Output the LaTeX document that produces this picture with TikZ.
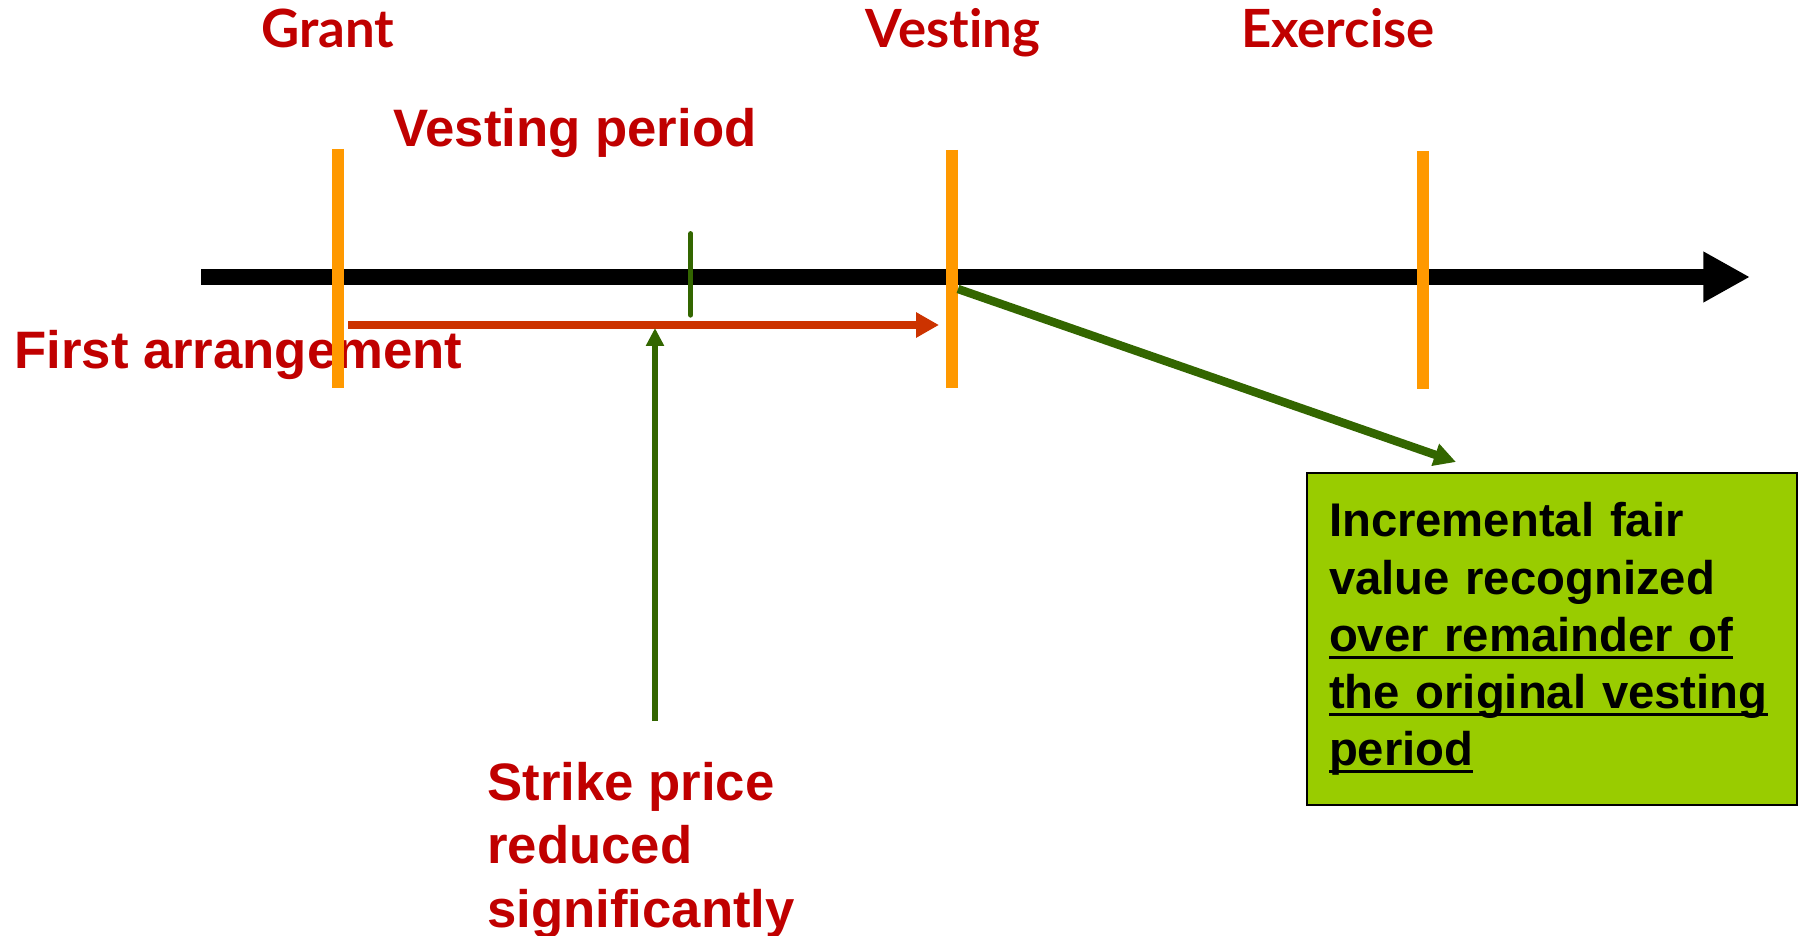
\documentclass[tikz,border=0pt]{standalone}
\usepackage{fontspec}
\setmainfont{Liberation Sans}
\newfontfamily\gillfont[Ligatures=NoCommon]{Lato}
\usetikzlibrary{arrows.meta}
\definecolor{darkred}{RGB}{192,0,0}
\definecolor{markorange}{RGB}{255,153,0}
\definecolor{rustred}{RGB}{204,51,0}
\definecolor{leafgreen}{RGB}{51,102,0}
\definecolor{boxgreen}{RGB}{153,204,0}
\newcommand\ulbar[1]{\leavevmode\setbox0\hbox{#1}\rlap{\vrule width\wd0 height -2.8pt depth 4.4pt}\box0}

\begin{document}
\begin{tikzpicture}
        [
            x = 0.02cm, y = -0.02cm,
            headline/.style = {font = \gillfont\bfseries\fontsize{30}{36}\selectfont, text = darkred, anchor = base, inner sep = 0},
            redtext/.style = {font = \bfseries\fontsize{30}{36}\selectfont, text = darkred, anchor = base west, inner sep = 0, align = left},
            greenbox/.style = {draw = black, line width = 1.2pt, fill = boxgreen, anchor = north west, outer sep = 0,
                minimum width = 9.8cm, minimum height = 6.64cm, inner xsep = 0.44cm, inner ysep = 0,
                text width = 8.92cm, align = left, font = \bfseries\fontsize{26.9}{32.5}\selectfont},
            bar/.style = {draw = markorange, line width = 6.8pt},
            greenline/.style = {draw = leafgreen}
        ]
        \useasboundingbox (0,0) rectangle (1800,936);

        \node [headline] (grant) at (328,48) {Grant};
        \node [headline] (vesting) at (953,48) {Vesting};
        \node [headline] (exercise) at (1338,48) {Exercise};
        \node [redtext] (period) at (393,147) {Vesting period};
        \node [redtext] (first) at (14,368) {First arrangement};
        \node [redtext] (strike) at (487,927) {Strike price\\reduced\\significantly};
        \node [greenbox] (incr) at (1307,473) {Incremental fair\\value recognized\\\ulbar{over remainder of}\\\ulbar{the original vesting}\\\ulbar{period}};

        \coordinate (axisL) at (201,277);
        \coordinate (axisR) at (1750,277);
        \draw [line width = 9pt, -{Triangle[length = 26.5pt, width = 27pt]}] (axisL) -- (axisR);

        \foreach \x/\a/\b in {338/149/388, 952/150/388, 1423/151/389}
            \draw [bar] (\x,\a) -- (\x,\b);

        \coordinate (cutT) at (690.7,233.7);
        \coordinate (cutB) at (690.7,315);
        \draw [greenline, line width = 3pt, line cap = round] (cutT) -- (cutB);

        \coordinate (firstL) at (348,325);
        \coordinate (firstR) at (939,325);
        \draw [rustred, line width = 4.7pt, -{Triangle[length = 13pt, width = 13.6pt]}] (firstL) -- (firstR);

        \coordinate (strikeUp) at (655,721);
        \coordinate (strikeTip) at (655,328);
        \draw [greenline, line width = 3.4pt, -{Triangle[length = 10.2pt, width = 9.8pt]}] (strikeUp) -- (strikeTip);

        \coordinate (vestPt) at (958,289);
        \coordinate (incrTip) at (1456,462);
        \draw [greenline, line width = 4.8pt, -{Triangle[length = 12.5pt, width = 12.5pt]}] (vestPt) -- (incrTip);
    \end{tikzpicture}
\end{document}
